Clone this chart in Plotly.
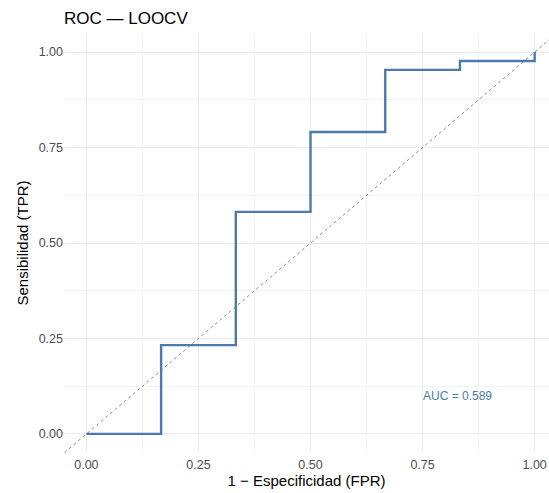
import plotly.graph_objects as go

# ROC step points (FPR, TPR)
fpr = [0.0, 1/6, 1/6, 2/6, 2/6, 3/6, 3/6, 4/6, 4/6, 5/6, 5/6, 1.0, 1.0]
tpr = [0.0, 0.0, 10/43, 10/43, 25/43, 25/43, 34/43, 34/43, 41/43, 41/43, 42/43, 42/43, 1.0]
diag = [-0.1, 1.1]
auc_label = "AUC = 0.589"
auc_pos = (0.75, 0.1)
tick_vals = [0.0, 0.25, 0.5, 0.75, 1.0]
tick_text = ["0.00", "0.25", "0.50", "0.75", "1.00"]

line_color = "#4A7AAE"
font = "Liberation Sans, Arial, sans-serif"

fig = go.Figure()
fig.add_trace(go.Scatter(x=diag, y=diag, mode="lines",
                         line=dict(color="#8A8A8A", width=1, dash="3px,3px"),
                         hoverinfo="skip", showlegend=False))
fig.add_trace(go.Scatter(x=fpr, y=tpr, mode="lines",
                         line=dict(color=line_color, width=2.4),
                         showlegend=False))
fig.add_annotation(x=auc_pos[0], y=auc_pos[1], text=auc_label, showarrow=False,
                   xanchor="left", yanchor="middle", borderpad=0, xshift=-1,
                   font=dict(family=font, size=12, color=line_color))

axis_common = dict(
    tickvals=tick_vals, ticktext=tick_text, showgrid=True, gridcolor="#EBEBEB",
    gridwidth=1, zeroline=False, showline=False, ticks="", automargin=False,
    tickfont=dict(family=font, size=12.5, color="#4D4D4D"),
    minor=dict(dtick=0.125, showgrid=True, gridcolor="#F2F2F2", gridwidth=0.6),
)

fig.update_layout(
    width=549, height=493,
    margin=dict(l=64, r=0, t=33, b=40, autoexpand=False),
    paper_bgcolor="white", plot_bgcolor="white",
    title=dict(text="ROC — LOOCV", x=64/549, xanchor="left", y=1-18/493, yanchor="middle",
               font=dict(family=font, size=17, color="black")),
    xaxis=dict(range=[-0.05, 1.032], title=dict(text="1 − Especificidad (FPR)", standoff=2,
               font=dict(family=font, size=15, color="black")), **axis_common),
    yaxis=dict(range=[-0.05, 1.05], title=dict(text="Sensibilidad (TPR)", standoff=6,
               font=dict(family=font, size=15, color="black")), **axis_common),
)
fig.update_xaxes(ticklabelstandoff=2)
fig.write_html("out.html", post_script="document.body.style.margin='0';",
               config={"displayModeBar": False})
